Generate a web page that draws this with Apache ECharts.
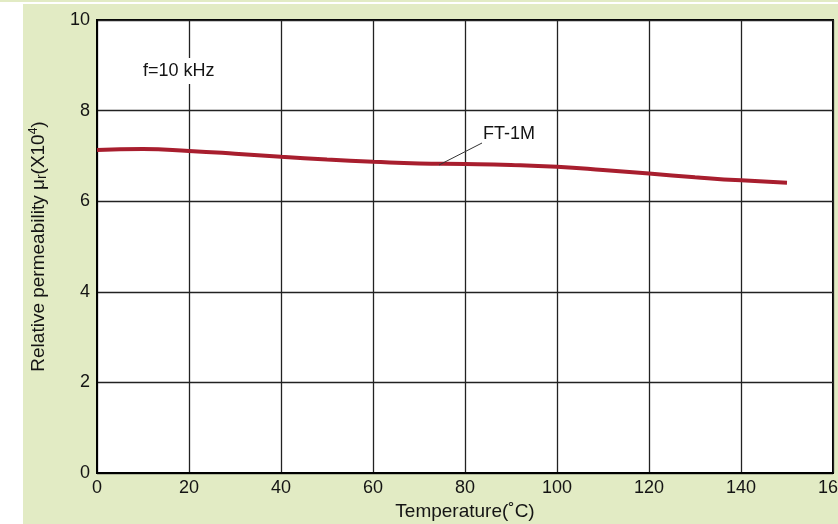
<!DOCTYPE html>
<html>
<head>
<meta charset="utf-8">
<script src="https://cdn.jsdelivr.net/npm/echarts@6/dist/echarts.min.js"></script>
<style>
  html, body { margin: 0; padding: 0; background: #fff; }
  #chart { width: 838px; height: 524px; }
</style>
</head>
<body>
<div id="chart"></div>
<script>
// temperature (°C) vs relative permeability (x10^4), FT-1M @ 10 kHz
const temps = [0, 10, 20, 30, 40, 50, 60, 70, 80, 90, 100, 110, 120, 130, 140, 150];
const mu = [7.13, 7.15, 7.11, 7.05, 6.98, 6.92, 6.87, 6.83, 6.82, 6.80, 6.76, 6.69, 6.61, 6.53, 6.46, 6.41];
const seriesName = "FT-1M";
const note = "f=10 kHz";

const myChart = echarts.init(document.getElementById("chart"));
const txt = "#141414";
const font = "Liberation Sans";

myChart.setOption({
  backgroundColor: "#fff",
  animation: false,
  graphic: [
    { type: "rect", z: -10, shape: { x: 0, y: 0, width: 838, height: 2 }, style: { fill: "#e2ebc4" } },
    { type: "rect", z: -10, shape: { x: 23, y: 4, width: 815, height: 520 }, style: { fill: "#e2ebc4" } },
    {
      type: "text", left: 141, top: 58, z: 100,
      style: { text: note, font: "18px " + font, fill: txt, backgroundColor: "#fff", padding: [4, 2] }
    },
    {
      type: "text", left: 483, top: 125, z: 100,
      style: { text: seriesName, font: "18px " + font, fill: txt }
    },
    {
      type: "line", z: 100,
      shape: { x1: 439, y1: 165, x2: 482, y2: 143 },
      style: { stroke: "#333", lineWidth: 1 }
    }
  ],
  grid: {
    left: 97, right: 5, top: 20, bottom: 51,
    outerBoundsMode: "none",
    containLabel: false,
    show: true, backgroundColor: "#fff", borderColor: "#000", borderWidth: 2
  },
  xAxis: {
    type: "value",
    min: 0, max: 160, interval: 20,
    name: "Temperature(˚C)",
    nameLocation: "middle",
    nameGap: 29,
    nameTextStyle: { fontFamily: font, fontSize: 19, color: txt },
    axisLine: { lineStyle: { color: "#000", width: 2 } },
    axisTick: { show: false },
    axisLabel: { fontFamily: font, fontSize: 18, color: txt, margin: 6 },
    splitLine: { lineStyle: { color: "#222", width: 1.3 } }
  },
  yAxis: {
    type: "value",
    min: 0, max: 10, interval: 2,
    name: "Relative permeability μ{sub|r}(X10{sup|4})",
    nameLocation: "middle",
    nameRotate: 90,
    nameGap: 48,
    nameTextStyle: {
      fontFamily: font, fontSize: 19, color: txt,
      rich: {
        sub: { fontFamily: font, fontSize: 14, color: txt, verticalAlign: "bottom", padding: [7, 0, 0, 0] },
        sup: { fontFamily: font, fontSize: 12, color: txt, verticalAlign: "top", padding: [0, 0, 8, 0] }
      }
    },
    axisLine: { lineStyle: { color: "#000", width: 2 } },
    axisTick: { show: false },
    axisLabel: { fontFamily: font, fontSize: 18, color: txt, margin: 7 },
    splitLine: { lineStyle: { color: "#222", width: 1.3 } }
  },
  series: [
    {
      name: seriesName,
      type: "line",
      smooth: true,
      showSymbol: false,
      data: temps.map((t, i) => [t, mu[i]]),
      lineStyle: { color: "#a81e2e", width: 4 },
      z: 5
    }
  ]
});
</script>
</body>
</html>
